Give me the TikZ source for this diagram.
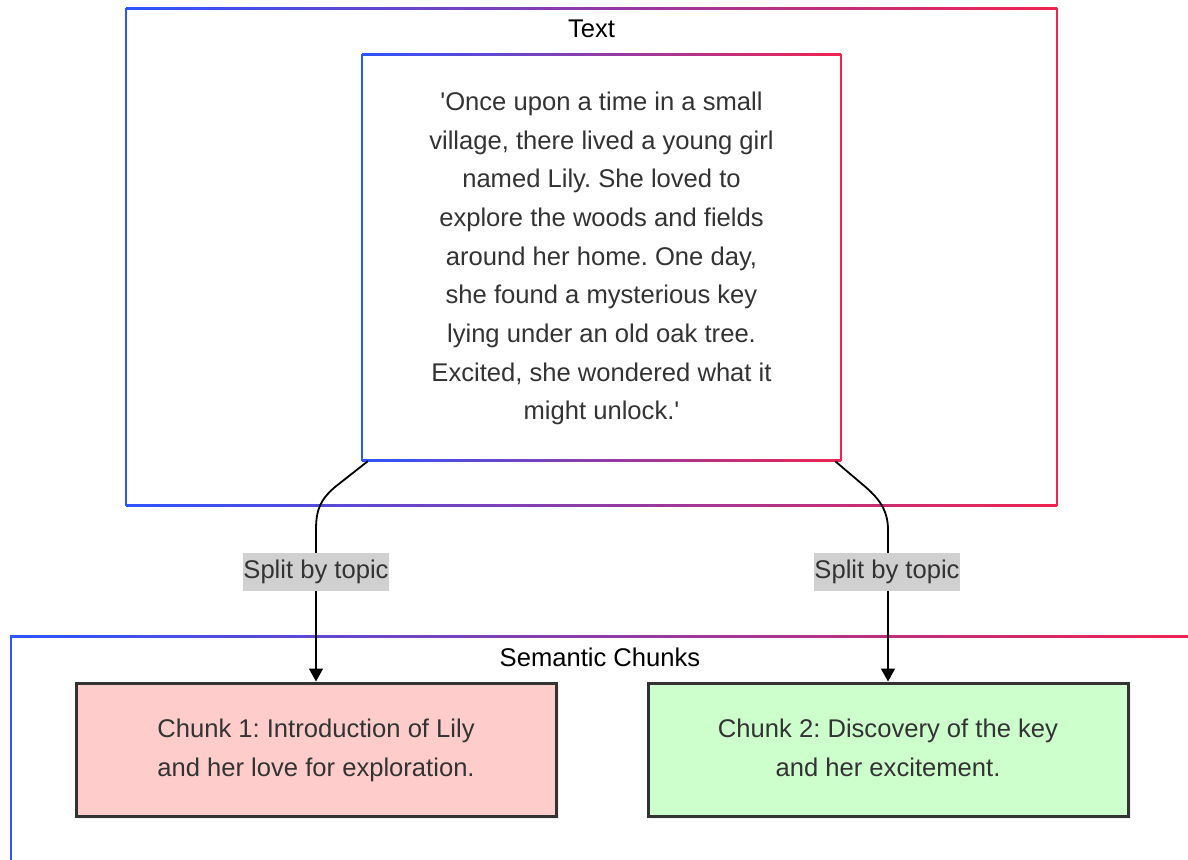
\documentclass[tikz,border=0pt]{standalone}
\usepackage{fontspec}
\setmainfont{Liberation Sans}[Ligatures=TeXOff]
\usetikzlibrary{arrows.meta,calc,shadows}

\definecolor{gblue}{RGB}{45,85,255}
\definecolor{gred}{RGB}{240,35,80}
\definecolor{ink}{RGB}{51,51,51}
\definecolor{chunkred}{RGB}{255,204,204}
\definecolor{chunkgreen}{RGB}{204,255,204}
\definecolor{labelgray}{RGB}{208,208,208}

% frame whose stroke runs from blue (left) to red (right)
\newcommand\gradframe[4]{%
  \shade[left color=gblue,right color=gred] (#1,#2-1) rectangle (#3,#2+1);
  \shade[left color=gblue,right color=gred] (#1,#4-1) rectangle (#3,#4+1);
  \fill[gblue] (#1-1,#2-1) rectangle (#1+1,#4+1);
  \fill[gred] (#3-1,#2-1) rectangle (#3+1,#4+1);
}

\tikzset{
  ttl/.style={text=black, inner sep=0pt},
  storybox/.style={minimum width=479, minimum height=405, inner sep=0pt, align=center},
  chunk/.style={draw=ink, line width=3pt, minimum width=480, minimum height=133,
    inner sep=0pt, align=center,
    drop shadow={opacity=0.12, shadow xshift=3pt, shadow yshift=-3pt}},
  flow/.style={draw=black, line width=1.8pt, -{Triangle[width=14pt,length=13pt]}},
  lbl/.style={fill=labelgray, inner xsep=0pt, inner ysep=0pt, minimum height=38,
    text height=19pt, text depth=6pt},
}

\begin{document}
\frenchspacing
\begin{tikzpicture}[x=1pt, y=-1pt, font=\fontsize{25.6}{38.7}\selectfont, text=ink]
  \useasboundingbox (0,0) rectangle (1188,859);
  \clip (0,0) rectangle (1188,859);
  \fill[white] (0,0) rectangle (1188,859);

  % outer "Text" group
  \gradframe{126}{9}{1057}{505}
  \node[ttl] (textttl) at (591.5,29) {Text};

  % story passage
  \node[storybox] (story) at (601.5,258.5) {'Once upon a time in a small\\
    village, there lived a young girl\\
    named Lily. She loved to\\
    explore the woods and fields\\
    around her home. One day,\\
    she found a mysterious key\\
    lying under an old oak tree.\\
    Excited, she wondered what it\\
    might unlock.'};
  \gradframe{362}{55}{841}{460}

  % "Semantic Chunks" group (runs off the right and bottom edges)
  \gradframe{11}{636}{1194}{880}
  \node[ttl] (semttl) at (600,657) {Semantic Chunks};

  \node[chunk, fill=chunkred] (c1) at (316,749.5)
    {\strut Chunk 1: Introduction of Lily\\and her love for exploration.\strut};
  \node[chunk, fill=chunkgreen] (c2) at (888,749.5)
    {\strut Chunk 2: Discovery of the key\\and her excitement.\strut};

  % connectors
  \draw[flow] ([xshift=6pt]story.south west) -- (335,487)
    .. controls (320,500) and (316,510) .. (316,530) -- (c1.north);
  \draw[flow] ([xshift=-6pt]story.south east) -- (862,484)
    .. controls (879,498) and (888,510) .. (888,530) -- (c2.north);

  \node[lbl] (l1) at (316,572) {Split by topic};
  \node[lbl] (l2) at (887,572) {Split by topic};
\end{tikzpicture}
\end{document}
